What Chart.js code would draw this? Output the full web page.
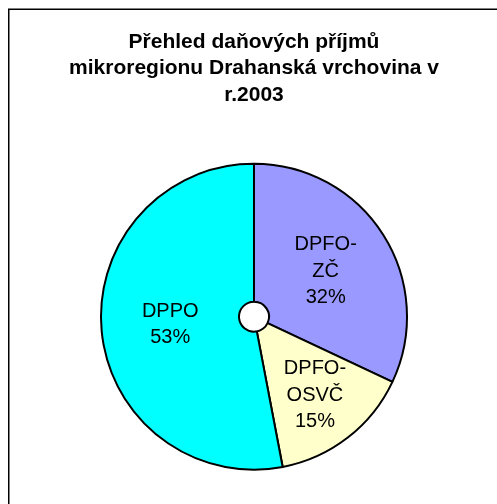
<!DOCTYPE html>
<html>
<head>
<meta charset="utf-8">
<script src="https://cdn.jsdelivr.net/npm/chart.js@4/dist/chart.umd.min.js"></script>
<style>
  html, body { margin: 0; padding: 0; background: #fff; }
  #wrap { width: 497px; height: 504px; position: relative; }
</style>
</head>
<body>
<div id="wrap"><canvas id="c" width="497" height="504"></canvas></div>
<script>
const titleLines = ['Přehled daňových příjmů', 'mikroregionu Drahanská vrchovina v', 'r.2003'];
const categories = ['DPFO-ZČ', 'DPFO-OSVČ', 'DPPO'];
const values = [32, 15, 53];
const colors = ['#9999FF', '#FFFFCC', '#00FFFF'];

const FONT = '"Liberation Sans", Arial, "DejaVu Sans", sans-serif';

const framePlugin = {
  id: 'frame',
  beforeDraw(chart) {
    const ctx = chart.ctx;
    ctx.save();
    ctx.fillStyle = '#fff';
    ctx.fillRect(0, 0, chart.width, chart.height);
    ctx.strokeStyle = '#000';
    ctx.lineWidth = 1.5;
    ctx.beginPath();
    ctx.moveTo(8.75, chart.height + 2);
    ctx.lineTo(8.75, 9.25);
    ctx.lineTo(chart.width + 2, 9.25);
    ctx.stroke();
    ctx.restore();
  }
};

const labelFrac = [0.555, 0.65, 0.55];
const labelPlugin = {
  id: 'sliceLabels',
  afterDatasetsDraw(chart) {
    const ctx = chart.ctx;
    const meta = chart.getDatasetMeta(0);
    const data = chart.data.datasets[0].data;
    const total = data.reduce((a, b) => a + b, 0);
    ctx.save();
    ctx.font = '20px ' + FONT;
    ctx.fillStyle = '#000';
    ctx.textAlign = 'center';
    ctx.textBaseline = 'middle';
    const lh = 26.5;
    meta.data.forEach((arc, i) => {
      const p = arc.getProps(['x', 'y', 'startAngle', 'endAngle', 'outerRadius'], true);
      const mid = (p.startAngle + p.endAngle) / 2;
      const r = p.outerRadius * labelFrac[i];
      const cx = p.x + Math.cos(mid) * r;
      const cy = p.y + Math.sin(mid) * r;
      const name = chart.data.labels[i];
      const lines = [];
      const h = name.indexOf('-');
      if (h >= 0) { lines.push(name.slice(0, h + 1)); lines.push(name.slice(h + 1)); }
      else lines.push(name);
      lines.push(Math.round(data[i] / total * 100) + '%');
      const y0 = cy - (lines.length - 1) * lh / 2;
      lines.forEach((t, k) => ctx.fillText(t, cx, y0 + k * lh));
    });
    ctx.restore();
  }
};

new Chart(document.getElementById('c'), {
  type: 'doughnut',
  data: {
    labels: categories,
    datasets: [{
      data: values,
      backgroundColor: colors,
      borderColor: '#000',
      borderWidth: 2,
      radius: 153,
      hoverOffset: 0
    }]
  },
  options: {
    responsive: false,
    animation: false,
    cutout: '9.8%',
    events: [],
    layout: { padding: { left: 14, right: 3, top: 0, bottom: 0 } },
    plugins: {
      legend: { display: false },
      tooltip: { enabled: false },
      title: {
        display: true,
        text: titleLines,
        color: '#000',
        font: { family: FONT, size: 21, weight: 'bold', lineHeight: 1.26 },
        padding: { top: 29, bottom: 21 }
      }
    }
  },
  plugins: [framePlugin, labelPlugin]
});
</script>
</body>
</html>
